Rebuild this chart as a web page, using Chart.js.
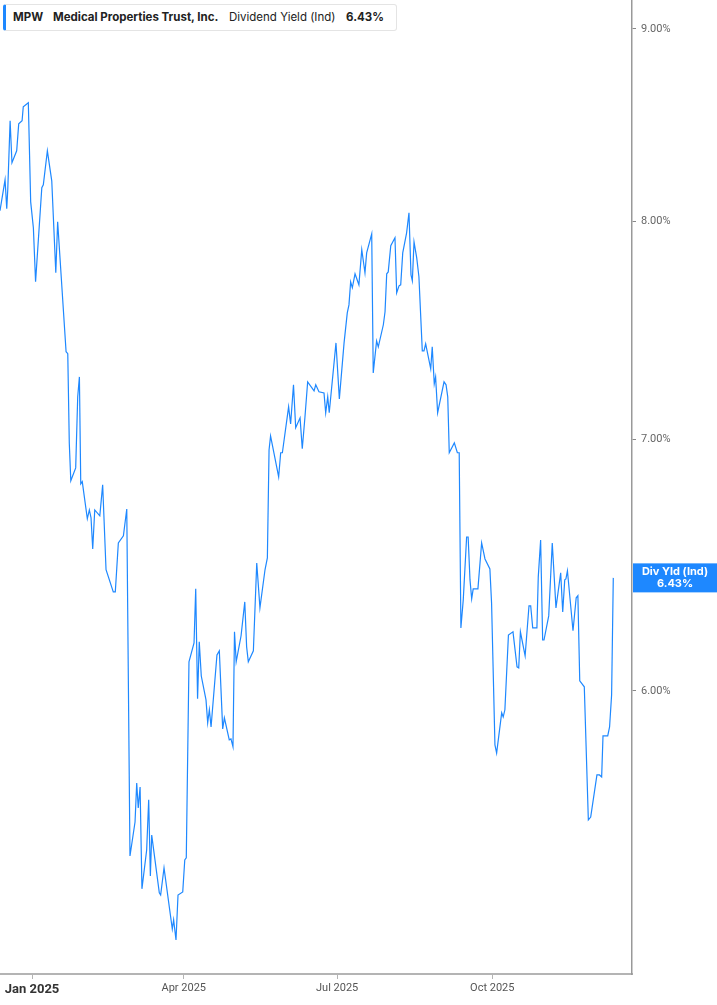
<!DOCTYPE html>
<html>
<head>
<meta charset="utf-8">
<script src="https://cdn.jsdelivr.net/npm/chart.js@4.4.1/dist/chart.umd.min.js"></script>
<style>
  html, body { margin: 0; padding: 0; background: #fff; }
  #wrap { position: relative; width: 717px; height: 1005px; }
  #legend {
    position: absolute; left: 3px; top: 4px; width: 390px; height: 25px;
    border: 1px solid #e4e4e4; border-left: 3px solid #1e88ff; border-radius: 3px;
    background: #fff; font-family: Inter, "Noto Sans", sans-serif; font-size: 11.5px; color: #222;
  }
  #legend span { position: absolute; top: 5px; white-space: nowrap; }
  .b { font-weight: 700; }
</style>
</head>
<body>
<div id="wrap">
  <canvas id="chart" width="717" height="1005"></canvas>
  <div id="legend">
    <span class="b" style="left:7px">MPW</span>
    <span class="b" style="left:47px">Medical Properties Trust, Inc.</span>
    <span style="left:223px">Dividend Yield (Ind)</span>
    <span class="b" style="left:340px">6.43%</span>
  </div>
</div>
<script>
// days counted from 1 Jan 2025, yield in %
const days = [
  -19.0, -16.0, -15.0, -14.4, -13.0, -11.9, -9.1, -7.9, -5.9, -5.2, -2.2, -0.8, 0.8, 2.1, 5.8, 6.7, 9.1, 11.7, 14.1, 15.2,
  20.2, 21.2, 22.1, 23.0, 25.9, 27.1, 28.1, 28.9, 29.8, 32.8, 34.0, 35.0, 36.0, 37.2, 40.2, 41.9, 43.9, 48.2, 49.4, 51.2,
  54.2, 56.2, 58.1, 61.1, 62.1, 63.0, 64.1, 65.2, 68.0, 69.2, 70.2, 71.0, 75.5, 76.3, 78.3, 83.2, 84.0, 85.4, 86.6, 89.4,
  90.6, 91.5, 93.1, 96.1, 97.1, 98.2, 99.2, 100.4, 103.2, 104.2, 105.2, 106.2, 109.7, 111.1, 113.1, 114.1, 117.0, 118.0, 119.2, 120.1,
  121.1, 124.0, 126.2, 127.3, 128.3, 131.3, 133.3, 135.2, 138.2, 139.6, 140.6, 141.5, 146.3, 147.5, 148.5, 152.2, 153.4, 155.1, 156.4, 159.0,
  160.3, 161.9, 163.5, 167.3, 168.3, 170.2, 173.2, 174.2, 175.4, 176.3, 180.3, 182.3, 185.1, 187.0, 188.0, 189.0, 190.0, 191.6, 193.9, 195.6,
  197.5, 198.5, 201.5, 202.4, 204.4, 205.4, 208.4, 209.4, 210.4, 211.3, 212.8, 215.3, 216.3, 217.7, 218.7, 219.9, 222.2, 223.6, 224.8, 225.6,
  226.6, 228.2, 229.5, 231.5, 232.5, 233.5, 236.5, 237.4, 238.6, 239.4, 240.6, 244.4, 245.6, 246.6, 247.5, 250.5, 252.3, 253.4, 254.4, 255.8,
  257.8, 258.7, 259.8, 260.8, 261.7, 264.5, 266.7, 268.7, 271.6, 272.6, 274.6, 275.6, 278.6, 279.5, 280.5, 282.6, 285.3, 287.7, 288.7, 289.7,
  292.5, 294.8, 295.8, 297.0, 299.5, 300.3, 301.7, 302.9, 303.7, 306.5, 308.6, 310.8, 313.6, 314.8, 316.0, 316.7, 317.6, 320.9, 322.8, 323.8,
  324.9, 327.6, 330.0, 331.4, 335.1, 336.6, 337.9, 338.7, 341.5, 342.6, 343.8, 344.8
];
const yields = [
  8.051, 8.205, 8.061, 8.155, 8.507, 8.291, 8.352, 8.491, 8.507, 8.580, 8.601, 8.095, 7.967, 7.708, 8.165, 8.180, 8.352, 8.200, 7.751, 7.997,
  7.385, 7.376, 6.984, 6.824, 6.878, 7.184, 7.272, 6.811, 6.820, 6.667, 6.703, 6.671, 6.545, 6.703, 6.679, 6.807, 6.462, 6.375, 6.375, 6.569,
  6.598, 6.707, 5.423, 5.537, 5.671, 5.585, 5.657, 5.315, 5.443, 5.613, 5.357, 5.493, 5.302, 5.295, 5.384, 5.186, 5.215, 5.151, 5.295, 5.305,
  5.410, 5.417, 6.108, 6.179, 6.387, 5.971, 6.183, 6.055, 5.967, 5.884, 5.931, 5.869, 6.134, 6.149, 5.862, 5.902, 5.823, 5.826, 5.798, 6.221,
  6.108, 6.206, 6.336, 6.164, 6.108, 6.149, 6.489, 6.313, 6.462, 6.509, 6.954, 7.014, 6.840, 6.942, 6.942, 7.140, 7.066, 7.237, 7.049, 7.092,
  6.959, 7.096, 7.250, 7.210, 7.237, 7.206, 7.201, 7.114, 7.184, 7.114, 7.425, 7.175, 7.425, 7.563, 7.600, 7.708, 7.680, 7.746, 7.694, 7.861,
  7.751, 7.846, 7.938, 7.290, 7.434, 7.407, 7.508, 7.568, 7.746, 7.755, 7.880, 7.919, 7.656, 7.689, 7.694, 7.846, 7.943, 8.041, 7.741, 7.713,
  7.899, 7.822, 7.732, 7.389, 7.389, 7.421, 7.308, 7.407, 7.241, 7.272, 7.114, 7.250, 7.237, 7.184, 6.942, 6.984, 6.942, 6.942, 6.236, 6.344,
  6.593, 6.593, 6.422, 6.348, 6.387, 6.387, 6.569, 6.505, 6.465, 6.332, 5.805, 5.776, 5.920, 5.905, 5.931, 6.209, 6.221, 6.089, 6.085, 6.221,
  6.130, 6.321, 6.321, 6.236, 6.236, 6.434, 6.581, 6.190, 6.190, 6.282, 6.569, 6.313, 6.450, 6.297, 6.422, 6.426, 6.458, 6.225, 6.352, 6.360,
  6.037, 6.015, 5.544, 5.554, 5.699, 5.699, 5.692, 5.837, 5.837, 5.869, 5.985, 6.43
];
const xTickDays = [0, 90, 181, 273];
const xTickLabels = ['Jan 2025', 'Apr 2025', 'Jul 2025', 'Oct 2025'];
const yTickValues = [6, 7, 8, 9];

const lineColor = '#1e88ff';

const lastLabel = {
  id: 'lastLabel',
  afterDraw(chart) {
    const ctx = chart.ctx;
    const y = chart.scales.y.getPixelForValue(yields[yields.length - 1]);
    const x0 = chart.chartArea.right + 1;
    ctx.save();
    ctx.fillStyle = lineColor;
    ctx.fillRect(x0, y - 14.5, 717 - x0, 29);
    ctx.fillStyle = '#fff';
    ctx.font = 'bold 11px Inter, "Noto Sans", sans-serif';
    ctx.textAlign = 'center';
    ctx.textBaseline = 'middle';
    ctx.fillText('Div Yld (Ind)', (x0 + 717) / 2, y - 6);
    ctx.fillText(yields[yields.length - 1].toFixed(2) + '%', (x0 + 717) / 2, y + 6);
    ctx.restore();
  }
};

new Chart(document.getElementById('chart'), {
  type: 'line',
  data: {
    datasets: [{
      data: days.map((d, i) => ({ x: d, y: yields[i] })),
      borderColor: lineColor,
      borderWidth: 1.2,
      pointRadius: 0,
      fill: false,
      tension: 0
    }]
  },
  options: {
    responsive: false,
    animation: false,
    layout: { padding: 0 },
    plugins: { legend: { display: false }, tooltip: { enabled: false } },
    scales: {
      x: {
        type: 'linear',
        min: -19,
        max: 355.9,
        afterFit: s => { s.height = 31; s.paddingLeft = 0; s.paddingRight = 0; },
        afterBuildTicks: s => { s.ticks = xTickDays.map(v => ({ value: v })); },
        border: { display: true, color: '#b4b4b4', width: 2 },
        grid: { drawOnChartArea: false, drawTicks: true, tickLength: 5, color: '#b4b4b4' },
        ticks: {
          autoSkip: false,
          maxRotation: 0,
          padding: 3,
          callback: v => xTickLabels[xTickDays.indexOf(v)],
          color: c => c.tick && c.tick.value === 0 ? '#333' : '#555',
          font: c => c.tick && c.tick.value === 0
            ? { family: 'Roboto', size: 13, weight: 'bold' }
            : { family: 'Roboto', size: 11 }
        }
      },
      y: {
        type: 'logarithmic',
        position: 'right',
        min: 5.045,
        max: 9.16,
        afterFit: s => { s.width = 85; s.paddingTop = 0; s.paddingBottom = 0; },
        afterBuildTicks: s => { s.ticks = yTickValues.map(v => ({ value: v })); },
        border: { display: true, color: '#999', width: 1.5 },
        grid: { drawOnChartArea: false, drawTicks: true, tickLength: 4, color: '#888' },
        ticks: {
          padding: 5,
          color: '#666',
          font: { family: 'Roboto', size: 11 },
          callback: v => Number(v).toFixed(2) + '%'
        }
      }
    }
  },
  plugins: [lastLabel]
});
</script>
</body>
</html>
